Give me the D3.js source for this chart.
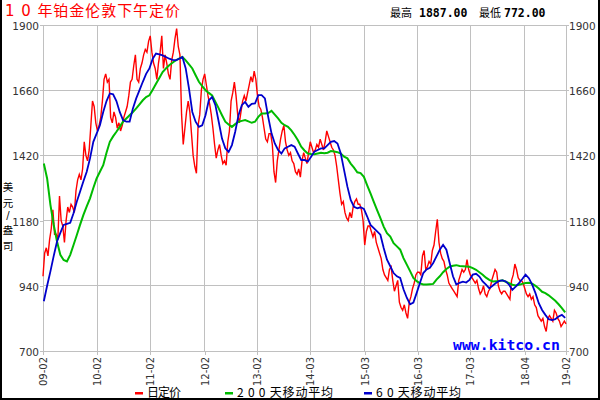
<!DOCTYPE html>
<html>
<head>
<meta charset="utf-8">
<title>10年铂金伦敦下午定价</title>
<script src="https://d3js.org/d3.v7.min.js"></script>
<style>
  body {margin: 0; background: #fff;}
  .grid line {stroke: #c0c0c0; stroke-width: 1; shape-rendering: crispEdges;}
  .axis text {font: 10.5px "DejaVu Sans", sans-serif; fill: #333;}
  .axis line {stroke: #c0c0c0; shape-rendering: crispEdges;}
  .axis path {display: none;}
  .cjk {font-family: "Noto Sans CJK SC", sans-serif;}
</style>
</head>
<body>
<svg id="chart" width="600" height="400"></svg>
<script>
// daily fix (two readings per ~3px column)
var dayPrice = [
  975,1060, 1080,1050, 1110,1150, 1220,1130, 1130,1110, 1270,1180, 1160,1100, 1180,1230,
  1210,1240, 1230,1210, 1290,1330, 1350,1330, 1370,1470, 1420,1400, 1440,1530, 1620,1600,
  1540,1510, 1530,1560, 1620,1700, 1720,1690, 1700,1560, 1540,1580, 1560,1520, 1540,1510,
  1530,1560, 1580,1600, 1640,1690, 1700,1750, 1790,1700, 1690,1740, 1760,1790, 1810,1800,
  1840,1860, 1800,1760, 1740,1700, 1760,1800, 1860,1740, 1790,1760, 1720,1700, 1770,1800,
  1850,1887, 1820,1790, 1570,1460, 1520,1580, 1620,1580, 1500,1420, 1380,1354, 1530,1570,
  1660,1700, 1720,1680, 1640,1610, 1570,1520, 1460,1410, 1440,1460, 1420,1390, 1400,1384,
  1470,1510, 1620,1650, 1690,1640, 1570,1540, 1580,1620, 1640,1620, 1650,1680, 1710,1690,
  1730,1700, 1640,1600, 1590,1560, 1520,1480, 1470,1500, 1500,1460, 1360,1320, 1400,1440,
  1480,1510, 1530,1470, 1440,1420, 1430,1400, 1390,1360, 1350,1370, 1340,1400, 1430,1410,
  1390,1430, 1470,1450, 1430,1440, 1460,1450, 1480,1460, 1440,1470, 1510,1490, 1470,1450,
  1440,1420, 1380,1330, 1280,1240, 1250,1210, 1190,1180, 1210,1190, 1230,1250, 1260,1240,
  1240,1220, 1180,1090, 1140,1160, 1160,1140, 1120,1140, 1100,1080, 1060,1040, 1000,980,
  970,960, 1000,1010, 960,920, 940,960, 880,860, 850,870, 840,820, 880,900,
  930,950, 980,990, 990,980, 1050,1070, 1000,1010, 1030,1020, 1070,1090, 1140,1185,
  1100,1060, 1040,1030, 1000,980, 950,940, 930,920, 910,900, 960,980, 1000,990,
  1000,1036, 1000,980, 970,960, 950,960, 930,910, 920,940, 910,900, 920,930,
  960,980, 1000,990, 940,920, 910,920, 920,910, 900,890, 960,980, 1020,1000,
  970,960, 960,950, 930,910, 900,910, 890,900, 870,860, 830,820, 810,820,
  790,772, 820,830, 820,810, 850,840, 820,810, 790,800, 810,800
];

// 200 day moving average, one reading per column
var ma200 = [
  1390,1335,1238,1164,1103,1054,1035,1030,1054,1090,1127,1165,1201,1232,1262,1300,
  1335,1360,1384,1430,1470,1490,1507,1525,1544,1556,1568,1580,1593,1608,1623,1635,
  1641,1662,1684,1705,1727,1740,1752,1761,1770,1776,1782,1770,1755,1740,1715,1691,
  1675,1660,1650,1641,1617,1593,1568,1544,1534,1525,1535,1544,1547,1550,1545,1540,
  1544,1562,1574,1574,1576,1584,1570,1556,1540,1531,1525,1512,1495,1476,1452,1438,
  1427,1425,1424,1427,1430,1428,1430,1436,1434,1432,1427,1415,1409,1390,1375,1358,
  1355,1341,1310,1280,1249,1219,1189,1158,1134,1121,1097,1085,1073,1042,1018,994,
  969,957,949,945,945,946,947,963,975,990,1002,1010,1014,1016,1013,1012,
  1011,1010,1005,999,990,981,970,962,956,957,958,960,955,950,944,941,
  944,947,950,951,948,940,930,918,913,905,895,885,872,858,842
];

// 60 day moving average
var ma60 = [
  883,940,993,1050,1103,1135,1164,1168,1172,1207,1250,1287,1325,1360,1409,1470,
  1500,1531,1580,1620,1648,1645,1620,1580,1550,1544,1544,1593,1630,1660,1691,1720,
  1740,1776,1795,1792,1788,1782,1776,1772,1770,1776,1782,1740,1666,1580,1544,1525,
  1531,1568,1623,1635,1605,1544,1482,1446,1433,1458,1507,1568,1605,1617,1599,1610,
  1611,1642,1642,1630,1562,1501,1464,1440,1427,1446,1452,1458,1452,1427,1403,1403,
  1397,1415,1434,1440,1446,1446,1458,1470,1473,1464,1427,1366,1305,1256,1231,1225,
  1229,1223,1195,1164,1152,1140,1128,1079,1036,1012,987,975,969,927,896,872,
  878,914,951,987,1000,1006,1024,1048,1073,1091,1073,1024,975,945,951,955,
  952,962,981,984,974,956,944,931,940,950,958,960,956,944,925,937,
  950,965,981,968,944,913,876,851,833,817,814,817,827,833,822
];

var tickLabels = ["09-02","10-02","11-02","12-02","13-02","14-03","15-03","16-03","17-03","18-04","19-02"];
var tickPos = [0, 33, 65, 98, 130, 162, 195, 227, 259, 292, 317];
var yTicks = [700, 940, 1180, 1420, 1660, 1900];

var svg = d3.select("#chart");

var x = d3.scaleLinear().domain([0, dayPrice.length - 1]).range([43, 566]);
var y = d3.scaleLinear().domain([700, 1900]).range([351, 25]);

// grid
var grid = svg.append("g").attr("class", "grid");
grid.selectAll(".h").data(yTicks).enter().append("line")
  .attr("x1", x(0)).attr("x2", x(dayPrice.length - 1))
  .attr("y1", function(d){ return y(d); }).attr("y2", function(d){ return y(d); });
grid.selectAll(".v").data(tickPos).enter().append("line")
  .attr("x1", function(d){ return x(d); }).attr("x2", function(d){ return x(d); })
  .attr("y1", y(1900)).attr("y2", y(700));

// axes
var fmt = d3.format("d");
svg.append("g").attr("class", "axis")
  .attr("transform", "translate(" + x(0) + ",0)")
  .call(d3.axisLeft(y).tickValues(yTicks).tickFormat(fmt).tickSize(3).tickPadding(1))
  .selectAll("text").attr("dy", "0.42em");

svg.append("g").attr("class", "axis")
  .attr("transform", "translate(" + x(dayPrice.length - 1) + ",0)")
  .call(d3.axisRight(y).tickValues(yTicks).tickFormat(fmt).tickSize(3).tickPadding(0))
  .selectAll("text").attr("dy", "0.42em");

svg.append("g").attr("class", "axis")
  .attr("transform", "translate(0," + y(700) + ")")
  .call(d3.axisBottom(x).tickValues(tickPos).tickSize(4)
    .tickFormat(function(d, i){ return tickLabels[i]; }))
  .selectAll("text")
  .style("font-size", "10px")
  .attr("transform", "rotate(-90)")
  .attr("x", -6).attr("y", 0).attr("dy", "0.35em")
  .style("text-anchor", "end");

// lines
var dayLine = d3.line()
  .x(function(d, i){ return x(i); })
  .y(function(d){ return y(d); });
var maLine = d3.line()
  .x(function(d, i){ return x(i * 2 + 0.5); })
  .y(function(d){ return y(d); });

svg.append("path").datum(dayPrice).attr("d", dayLine)
  .attr("fill", "none").attr("stroke", "#ff0000").attr("stroke-width", 1.4);
svg.append("path").datum(ma200).attr("d", maLine)
  .attr("fill", "none").attr("stroke", "#00bb00").attr("stroke-width", 2);
svg.append("path").datum(ma60).attr("d", maLine)
  .attr("fill", "none").attr("stroke", "#0000cc").attr("stroke-width", 1.8);

// watermark
svg.append("text")
  .attr("x", 453).attr("y", 350)
  .style("font", "bold 14.8px 'DejaVu Sans Mono', monospace")
  .attr("fill", "#0000ff")
  .text("www.kitco.cn");

// title
svg.append("text")
  .attr("x", 5).attr("y", 16)
  .attr("textLength", 175).attr("lengthAdjust", "spacing")
  .style("font-family", "'DejaVu Sans', 'Noto Sans CJK SC', sans-serif")
  .style("font-size", "15px").attr("fill", "#ff0000")
  .text("1 0 年铂金伦敦下午定价");

// high / low
var hi = svg.append("text").attr("y", 17);
hi.append("tspan").attr("class", "cjk").attr("x", 390).style("font-size", "11px").text("最高");
hi.append("tspan").attr("x", 419).style("font", "bold 11.5px 'DejaVu Sans Mono', monospace")
  .text(d3.max(dayPrice).toFixed(2));
hi.append("tspan").attr("class", "cjk").attr("x", 479).style("font-size", "11px").text("最低");
hi.append("tspan").attr("x", 504).style("font", "bold 11.5px 'DejaVu Sans Mono', monospace")
  .text(d3.min(dayPrice).toFixed(2));

// y unit, one character per line
var unit = ["美", "元", "/", "盎", "司"];
var unitY = [191, 206.5, 219, 234, 249.5];
svg.selectAll(".unit").data(unit).enter().append("text")
  .attr("x", 8).attr("y", function(d, i){ return unitY[i]; })
  .attr("text-anchor", "middle").attr("fill", "#000")
  .style("font-family", function(d){ return d == "/" ? "'DejaVu Sans', sans-serif" : "'Noto Sans CJK SC', sans-serif"; })
  .style("font-size", function(d){ return d == "/" ? "10px" : "10.5px"; })
  .text(function(d){ return d; });

// legend
var legendLabels = ["日定价", "2 0 0 天移动平均", "6 0 天移动平均"];
var legendColors = ["#ff0000", "#00bb00", "#0000cc"];
var legendX = [135, 225, 364];
var legendW = [34, 96, 85];
var lg = svg.selectAll(".lg").data(legendLabels).enter().append("g");
lg.append("rect")
  .attr("x", function(d, i){ return legendX[i]; }).attr("y", 392)
  .attr("width", 8).attr("height", 2.5)
  .attr("fill", function(d, i){ return legendColors[i]; });
lg.append("text").attr("class", "cjk")
  .attr("x", function(d, i){ return legendX[i] + 12; }).attr("y", 397)
  .attr("textLength", function(d, i){ return legendW[i]; }).attr("lengthAdjust", "spacing")
  .style("font-size", "12px").attr("fill", "#000")
  .text(function(d){ return d; });

// frame
svg.append("path")
  .attr("d", "M1,0V399H599V0")
  .attr("fill", "none").attr("stroke", "#000").attr("stroke-width", 2);
</script>
</body>
</html>
